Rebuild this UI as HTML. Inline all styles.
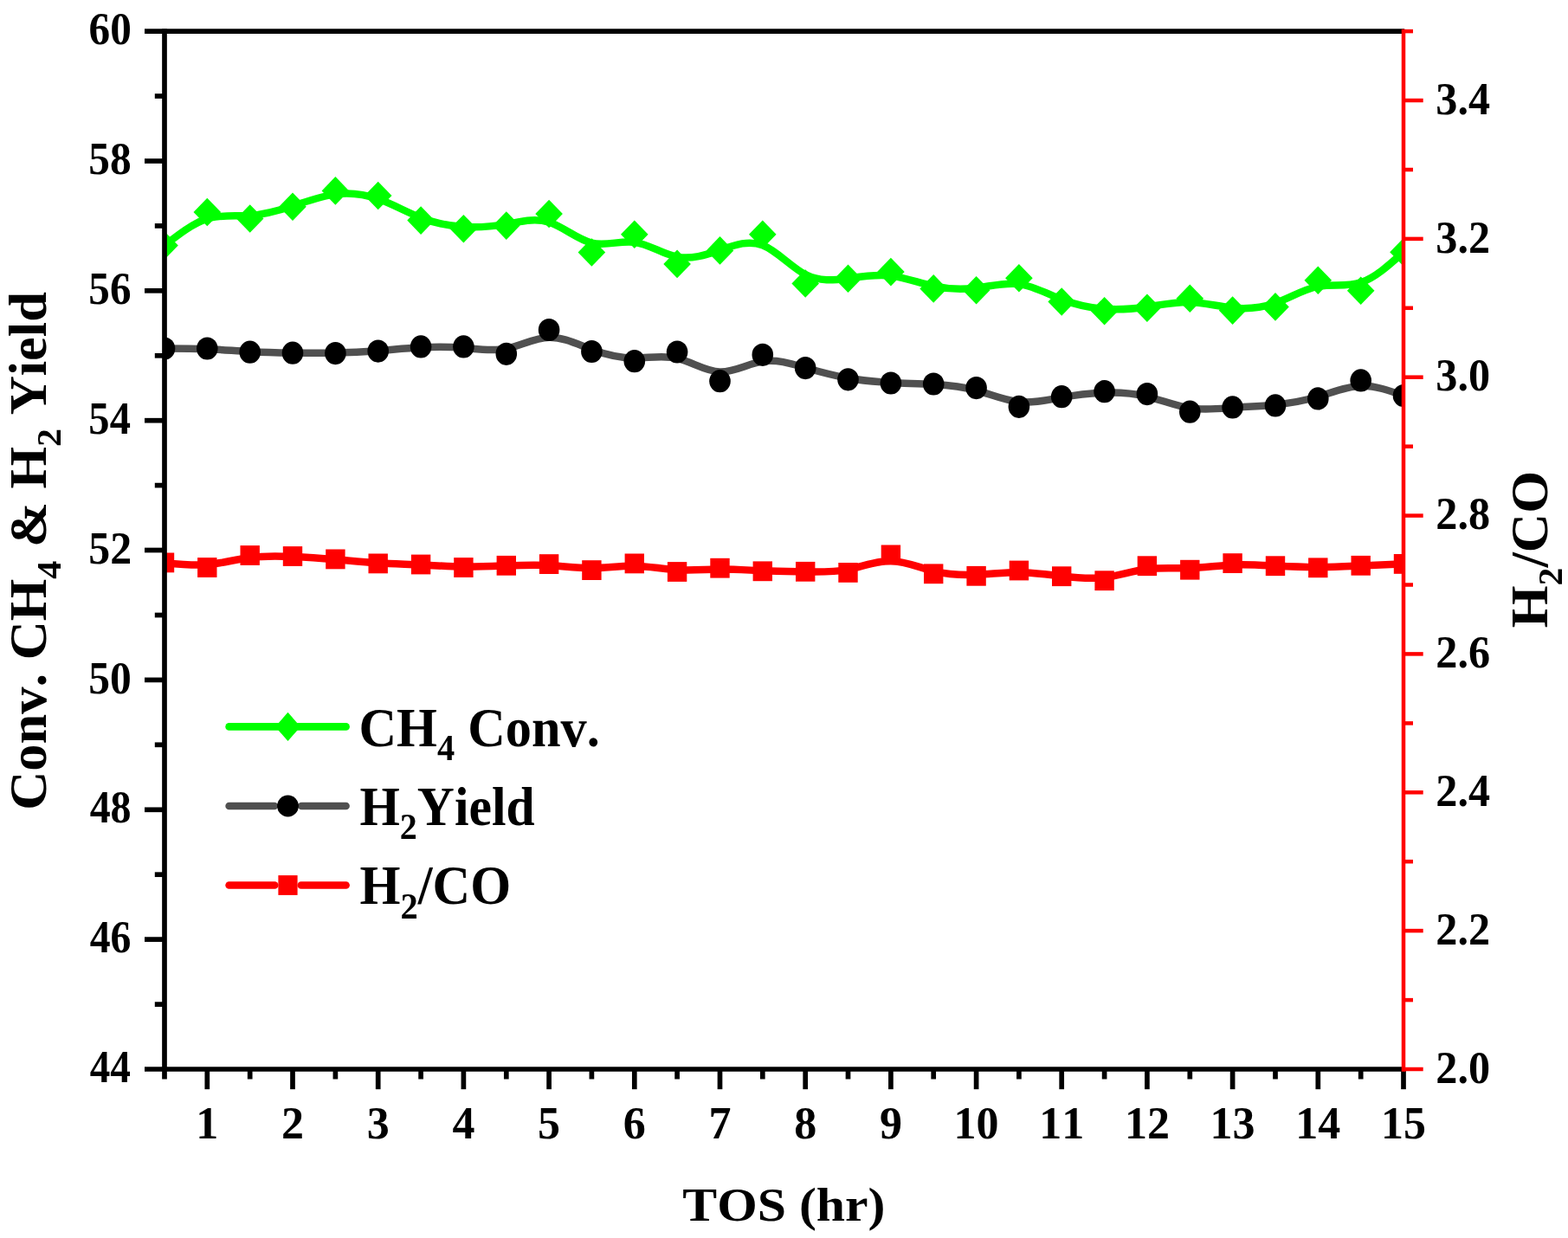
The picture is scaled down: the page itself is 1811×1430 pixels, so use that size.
<!DOCTYPE html>
<html><head><meta charset="utf-8"><title>TOS chart</title>
<style>
html,body{margin:0;padding:0;background:#fff;}
body{width:1811px;height:1430px;overflow:hidden;}
svg{display:block;}
text{font-family:"Liberation Serif","Times New Roman",serif;font-weight:bold;fill:#000;font-kerning:none;font-variant-ligatures:none;}
</style></head><body>
<svg width="1811" height="1430" viewBox="0 0 1811 1430">
<rect width="1811" height="1430" fill="#fff"/>
<defs><clipPath id="pa"><rect x="190.0" y="36.1" width="1431.0" height="1198.9"/></clipPath></defs>

<g clip-path="url(#pa)">
<path d="M190.00,283.50C206.45,270.67 222.90,257.83 239.34,252.67C255.79,247.50 272.24,250.00 288.69,248.97C305.14,247.93 321.59,243.37 338.03,238.02C354.48,232.67 370.93,226.53 387.38,224.40C403.83,222.27 420.28,224.13 436.72,229.83C453.17,235.53 469.62,245.07 486.07,251.43C502.52,257.80 518.97,261.00 535.41,262.00C551.86,263.00 568.31,261.80 584.76,258.93C601.21,256.07 617.66,251.53 634.10,256.68C650.55,261.83 667.00,276.67 683.45,280.62C699.90,284.57 716.34,277.63 732.79,279.87C749.24,282.10 765.69,293.50 782.14,296.62C798.59,299.73 815.03,294.57 831.48,288.87C847.93,283.17 864.38,276.93 880.83,283.28C897.28,289.63 913.72,308.57 930.17,317.08C946.62,325.60 963.07,323.70 979.52,321.47C995.97,319.23 1012.41,316.67 1028.86,318.60C1045.31,320.53 1061.76,326.97 1078.21,330.50C1094.66,334.03 1111.10,334.67 1127.55,332.63C1144.00,330.60 1160.45,325.90 1176.90,328.10C1193.34,330.30 1209.79,339.40 1226.24,345.73C1242.69,352.07 1259.14,355.63 1275.59,356.83C1292.03,358.03 1308.48,356.87 1324.93,354.47C1341.38,352.07 1357.83,348.43 1374.28,348.92C1390.72,349.40 1407.17,354.00 1423.62,355.60C1440.07,357.20 1456.52,355.80 1472.97,350.00C1489.41,344.20 1505.86,334.00 1522.31,330.88C1538.76,327.77 1555.21,331.73 1571.66,326.30C1588.10,320.87 1604.55,306.03 1621.00,291.20" fill="none" stroke="#00ff00" stroke-width="8.5" stroke-linejoin="round" stroke-linecap="round"/>
<path d="M190.0,267.2 L205.8,283.5 L190.0,299.8 L174.2,283.5Z" fill="#00ff00"/>
<path d="M239.3,228.7 L255.1,245.0 L239.3,261.3 L223.5,245.0Z" fill="#00ff00"/>
<path d="M288.7,236.2 L304.5,252.5 L288.7,268.8 L272.9,252.5Z" fill="#00ff00"/>
<path d="M338.0,222.5 L353.8,238.8 L338.0,255.1 L322.2,238.8Z" fill="#00ff00"/>
<path d="M387.4,204.1 L403.2,220.4 L387.4,236.7 L371.6,220.4Z" fill="#00ff00"/>
<path d="M436.7,209.7 L452.5,226.0 L436.7,242.3 L420.9,226.0Z" fill="#00ff00"/>
<path d="M486.1,238.3 L501.9,254.6 L486.1,270.9 L470.3,254.6Z" fill="#00ff00"/>
<path d="M535.4,247.9 L551.2,264.2 L535.4,280.5 L519.6,264.2Z" fill="#00ff00"/>
<path d="M584.8,244.3 L600.6,260.6 L584.8,276.9 L569.0,260.6Z" fill="#00ff00"/>
<path d="M634.1,230.7 L649.9,247.0 L634.1,263.3 L618.3,247.0Z" fill="#00ff00"/>
<path d="M683.4,275.2 L699.2,291.5 L683.4,307.8 L667.6,291.5Z" fill="#00ff00"/>
<path d="M732.8,254.4 L748.6,270.7 L732.8,287.0 L717.0,270.7Z" fill="#00ff00"/>
<path d="M782.1,288.6 L797.9,304.9 L782.1,321.2 L766.3,304.9Z" fill="#00ff00"/>
<path d="M831.5,273.1 L847.3,289.4 L831.5,305.7 L815.7,289.4Z" fill="#00ff00"/>
<path d="M880.8,254.4 L896.6,270.7 L880.8,287.0 L865.0,270.7Z" fill="#00ff00"/>
<path d="M930.2,311.2 L946.0,327.5 L930.2,343.8 L914.4,327.5Z" fill="#00ff00"/>
<path d="M979.5,305.5 L995.3,321.8 L979.5,338.1 L963.7,321.8Z" fill="#00ff00"/>
<path d="M1028.9,297.8 L1044.7,314.1 L1028.9,330.4 L1013.1,314.1Z" fill="#00ff00"/>
<path d="M1078.2,317.1 L1094.0,333.4 L1078.2,349.7 L1062.4,333.4Z" fill="#00ff00"/>
<path d="M1127.6,319.0 L1143.4,335.3 L1127.6,351.6 L1111.8,335.3Z" fill="#00ff00"/>
<path d="M1176.9,304.9 L1192.7,321.2 L1176.9,337.5 L1161.1,321.2Z" fill="#00ff00"/>
<path d="M1226.2,332.2 L1242.0,348.5 L1226.2,364.8 L1210.4,348.5Z" fill="#00ff00"/>
<path d="M1275.6,342.9 L1291.4,359.2 L1275.6,375.5 L1259.8,359.2Z" fill="#00ff00"/>
<path d="M1324.9,339.4 L1340.7,355.7 L1324.9,372.0 L1309.1,355.7Z" fill="#00ff00"/>
<path d="M1374.3,328.5 L1390.1,344.8 L1374.3,361.1 L1358.5,344.8Z" fill="#00ff00"/>
<path d="M1423.6,342.3 L1439.4,358.6 L1423.6,374.9 L1407.8,358.6Z" fill="#00ff00"/>
<path d="M1473.0,338.1 L1488.8,354.4 L1473.0,370.7 L1457.2,354.4Z" fill="#00ff00"/>
<path d="M1522.3,307.5 L1538.1,323.8 L1522.3,340.1 L1506.5,323.8Z" fill="#00ff00"/>
<path d="M1571.7,319.4 L1587.5,335.7 L1571.7,352.0 L1555.9,335.7Z" fill="#00ff00"/>
<path d="M1621.0,274.9 L1636.8,291.2 L1621.0,307.5 L1605.2,291.2Z" fill="#00ff00"/>
<path d="M190.00,402.50C206.45,402.50 222.90,402.50 239.34,403.20C255.79,403.90 272.24,405.30 288.69,406.17C305.14,407.03 321.59,407.37 338.03,407.60C354.48,407.83 370.93,407.97 387.38,407.62C403.83,407.27 420.28,406.43 436.72,405.15C453.17,403.87 469.62,402.13 486.07,401.27C502.52,400.40 518.97,400.40 535.41,401.80C551.86,403.20 568.31,406.00 584.76,402.77C601.21,399.53 617.66,390.27 634.10,389.80C650.55,389.33 667.00,397.67 683.45,403.70C699.90,409.73 716.34,413.47 732.79,413.55C749.24,413.63 765.69,410.07 782.14,413.90C798.59,417.73 815.03,428.97 831.48,429.52C847.93,430.07 864.38,419.93 880.83,417.42C897.28,414.90 913.72,420.00 930.17,424.75C946.62,429.50 963.07,433.90 979.52,436.80C995.97,439.70 1012.41,441.10 1028.86,441.97C1045.31,442.83 1061.76,443.17 1078.21,444.10C1094.66,445.03 1111.10,446.57 1127.55,450.95C1144.00,455.33 1160.45,462.57 1176.90,464.25C1193.34,465.93 1209.79,462.07 1226.24,459.13C1242.69,456.20 1259.14,454.20 1275.59,453.68C1292.03,453.17 1308.48,454.13 1324.93,458.05C1341.38,461.97 1357.83,468.83 1374.28,471.38C1390.72,473.93 1407.17,472.17 1423.62,470.95C1440.07,469.73 1456.52,469.07 1472.97,467.40C1489.41,465.73 1505.86,463.07 1522.31,458.23C1538.76,453.40 1555.21,446.40 1571.66,445.83C1588.10,445.27 1604.55,451.13 1621.00,457.00" fill="none" stroke="#505050" stroke-width="8.5" stroke-linejoin="round" stroke-linecap="round"/>
<ellipse cx="190.0" cy="402.5" rx="12.3" ry="13.1" fill="#000"/>
<ellipse cx="239.3" cy="402.5" rx="12.3" ry="13.1" fill="#000"/>
<ellipse cx="288.7" cy="406.7" rx="12.3" ry="13.1" fill="#000"/>
<ellipse cx="338.0" cy="407.7" rx="12.3" ry="13.1" fill="#000"/>
<ellipse cx="387.4" cy="408.1" rx="12.3" ry="13.1" fill="#000"/>
<ellipse cx="436.7" cy="405.6" rx="12.3" ry="13.1" fill="#000"/>
<ellipse cx="486.1" cy="400.4" rx="12.3" ry="13.1" fill="#000"/>
<ellipse cx="535.4" cy="400.4" rx="12.3" ry="13.1" fill="#000"/>
<ellipse cx="584.8" cy="408.8" rx="12.3" ry="13.1" fill="#000"/>
<ellipse cx="634.1" cy="381.0" rx="12.3" ry="13.1" fill="#000"/>
<ellipse cx="683.4" cy="406.0" rx="12.3" ry="13.1" fill="#000"/>
<ellipse cx="732.8" cy="417.2" rx="12.3" ry="13.1" fill="#000"/>
<ellipse cx="782.1" cy="406.5" rx="12.3" ry="13.1" fill="#000"/>
<ellipse cx="831.5" cy="440.2" rx="12.3" ry="13.1" fill="#000"/>
<ellipse cx="880.8" cy="409.8" rx="12.3" ry="13.1" fill="#000"/>
<ellipse cx="930.2" cy="425.1" rx="12.3" ry="13.1" fill="#000"/>
<ellipse cx="979.5" cy="438.3" rx="12.3" ry="13.1" fill="#000"/>
<ellipse cx="1028.9" cy="442.5" rx="12.3" ry="13.1" fill="#000"/>
<ellipse cx="1078.2" cy="443.5" rx="12.3" ry="13.1" fill="#000"/>
<ellipse cx="1127.6" cy="448.1" rx="12.3" ry="13.1" fill="#000"/>
<ellipse cx="1176.9" cy="469.8" rx="12.3" ry="13.1" fill="#000"/>
<ellipse cx="1226.2" cy="458.2" rx="12.3" ry="13.1" fill="#000"/>
<ellipse cx="1275.6" cy="452.2" rx="12.3" ry="13.1" fill="#000"/>
<ellipse cx="1324.9" cy="455.1" rx="12.3" ry="13.1" fill="#000"/>
<ellipse cx="1374.3" cy="475.7" rx="12.3" ry="13.1" fill="#000"/>
<ellipse cx="1423.6" cy="470.4" rx="12.3" ry="13.1" fill="#000"/>
<ellipse cx="1473.0" cy="468.4" rx="12.3" ry="13.1" fill="#000"/>
<ellipse cx="1522.3" cy="460.4" rx="12.3" ry="13.1" fill="#000"/>
<ellipse cx="1571.7" cy="439.4" rx="12.3" ry="13.1" fill="#000"/>
<ellipse cx="1621.0" cy="457.0" rx="12.3" ry="13.1" fill="#000"/>
<path d="M190.00,649.90C206.45,651.77 222.90,653.63 239.34,652.23C255.79,650.83 272.24,646.17 288.69,644.00C305.14,641.83 321.59,642.17 338.03,642.90C354.48,643.63 370.93,644.77 387.38,646.17C403.83,647.57 420.28,649.23 436.72,650.25C453.17,651.27 469.62,651.63 486.07,652.40C502.52,653.17 518.97,654.33 535.41,654.55C551.86,654.77 568.31,654.03 584.76,653.38C601.21,652.73 617.66,652.17 634.10,653.05C650.55,653.93 667.00,656.27 683.45,656.15C699.90,656.03 716.34,653.47 732.79,653.78C749.24,654.10 765.69,657.30 782.14,658.18C798.59,659.07 815.03,657.63 831.48,657.52C847.93,657.40 864.38,658.60 880.83,659.28C897.28,659.97 913.72,660.13 930.17,660.40C946.62,660.67 963.07,661.03 979.52,657.80C995.97,654.57 1012.41,647.73 1028.86,647.97C1045.31,648.20 1061.76,655.50 1078.21,659.57C1094.66,663.63 1111.10,664.47 1127.55,663.83C1144.00,663.20 1160.45,661.10 1176.90,661.17C1193.34,661.23 1209.79,663.47 1226.24,665.42C1242.69,667.37 1259.14,669.03 1275.59,667.03C1292.03,665.03 1308.48,659.37 1324.93,657.28C1341.38,655.20 1357.83,656.70 1374.28,656.18C1390.72,655.67 1407.17,653.13 1423.62,652.38C1440.07,651.63 1456.52,652.67 1472.97,653.53C1489.41,654.40 1505.86,655.10 1522.31,655.03C1538.76,654.97 1555.21,654.13 1571.66,653.40C1588.10,652.67 1604.55,652.03 1621.00,651.40" fill="none" stroke="#ff0000" stroke-width="8.5" stroke-linejoin="round" stroke-linecap="round"/>
<rect x="178.8" y="638.5" width="22.4" height="22.8" fill="#ff0000"/>
<rect x="228.1" y="644.1" width="22.4" height="22.8" fill="#ff0000"/>
<rect x="277.5" y="630.1" width="22.4" height="22.8" fill="#ff0000"/>
<rect x="326.8" y="631.1" width="22.4" height="22.8" fill="#ff0000"/>
<rect x="376.2" y="634.5" width="22.4" height="22.8" fill="#ff0000"/>
<rect x="425.5" y="639.5" width="22.4" height="22.8" fill="#ff0000"/>
<rect x="474.9" y="640.6" width="22.4" height="22.8" fill="#ff0000"/>
<rect x="524.2" y="644.1" width="22.4" height="22.8" fill="#ff0000"/>
<rect x="573.6" y="641.9" width="22.4" height="22.8" fill="#ff0000"/>
<rect x="622.9" y="640.2" width="22.4" height="22.8" fill="#ff0000"/>
<rect x="672.2" y="647.2" width="22.4" height="22.8" fill="#ff0000"/>
<rect x="721.6" y="639.5" width="22.4" height="22.8" fill="#ff0000"/>
<rect x="770.9" y="649.1" width="22.4" height="22.8" fill="#ff0000"/>
<rect x="820.3" y="644.8" width="22.4" height="22.8" fill="#ff0000"/>
<rect x="869.6" y="648.4" width="22.4" height="22.8" fill="#ff0000"/>
<rect x="919.0" y="648.9" width="22.4" height="22.8" fill="#ff0000"/>
<rect x="968.3" y="650.0" width="22.4" height="22.8" fill="#ff0000"/>
<rect x="1017.7" y="629.5" width="22.4" height="22.8" fill="#ff0000"/>
<rect x="1067.0" y="651.4" width="22.4" height="22.8" fill="#ff0000"/>
<rect x="1116.4" y="653.9" width="22.4" height="22.8" fill="#ff0000"/>
<rect x="1165.7" y="647.6" width="22.4" height="22.8" fill="#ff0000"/>
<rect x="1215.0" y="654.3" width="22.4" height="22.8" fill="#ff0000"/>
<rect x="1264.4" y="659.3" width="22.4" height="22.8" fill="#ff0000"/>
<rect x="1313.7" y="642.3" width="22.4" height="22.8" fill="#ff0000"/>
<rect x="1363.1" y="646.8" width="22.4" height="22.8" fill="#ff0000"/>
<rect x="1412.4" y="639.2" width="22.4" height="22.8" fill="#ff0000"/>
<rect x="1461.8" y="642.3" width="22.4" height="22.8" fill="#ff0000"/>
<rect x="1511.1" y="644.4" width="22.4" height="22.8" fill="#ff0000"/>
<rect x="1560.5" y="641.9" width="22.4" height="22.8" fill="#ff0000"/>
<rect x="1609.8" y="640.0" width="22.4" height="22.8" fill="#ff0000"/>
</g>
<g stroke="#000" stroke-width="5.7" fill="none">
<line x1="167" y1="36.1" x2="1622.0" y2="36.1"/>
<line x1="167" y1="1235.0" x2="1621.0" y2="1235.0"/>
<line x1="190.0" y1="33.25" x2="190.0" y2="1246.5"/>
<line x1="178.8" y1="1160.1" x2="190.0" y2="1160.1"/>
<line x1="167" y1="1085.1" x2="190.0" y2="1085.1"/>
<line x1="178.8" y1="1010.2" x2="190.0" y2="1010.2"/>
<line x1="167" y1="935.3" x2="190.0" y2="935.3"/>
<line x1="178.8" y1="860.3" x2="190.0" y2="860.3"/>
<line x1="167" y1="785.4" x2="190.0" y2="785.4"/>
<line x1="178.8" y1="710.5" x2="190.0" y2="710.5"/>
<line x1="167" y1="635.5" x2="190.0" y2="635.5"/>
<line x1="178.8" y1="560.6" x2="190.0" y2="560.6"/>
<line x1="167" y1="485.7" x2="190.0" y2="485.7"/>
<line x1="178.8" y1="410.8" x2="190.0" y2="410.8"/>
<line x1="167" y1="335.8" x2="190.0" y2="335.8"/>
<line x1="178.8" y1="260.9" x2="190.0" y2="260.9"/>
<line x1="167" y1="186.0" x2="190.0" y2="186.0"/>
<line x1="178.8" y1="111.0" x2="190.0" y2="111.0"/>
<line x1="239.3" y1="1235.0" x2="239.3" y2="1258.2"/>
<line x1="288.7" y1="1235.0" x2="288.7" y2="1246.5"/>
<line x1="338.0" y1="1235.0" x2="338.0" y2="1258.2"/>
<line x1="387.4" y1="1235.0" x2="387.4" y2="1246.5"/>
<line x1="436.7" y1="1235.0" x2="436.7" y2="1258.2"/>
<line x1="486.1" y1="1235.0" x2="486.1" y2="1246.5"/>
<line x1="535.4" y1="1235.0" x2="535.4" y2="1258.2"/>
<line x1="584.8" y1="1235.0" x2="584.8" y2="1246.5"/>
<line x1="634.1" y1="1235.0" x2="634.1" y2="1258.2"/>
<line x1="683.4" y1="1235.0" x2="683.4" y2="1246.5"/>
<line x1="732.8" y1="1235.0" x2="732.8" y2="1258.2"/>
<line x1="782.1" y1="1235.0" x2="782.1" y2="1246.5"/>
<line x1="831.5" y1="1235.0" x2="831.5" y2="1258.2"/>
<line x1="880.8" y1="1235.0" x2="880.8" y2="1246.5"/>
<line x1="930.2" y1="1235.0" x2="930.2" y2="1258.2"/>
<line x1="979.5" y1="1235.0" x2="979.5" y2="1246.5"/>
<line x1="1028.9" y1="1235.0" x2="1028.9" y2="1258.2"/>
<line x1="1078.2" y1="1235.0" x2="1078.2" y2="1246.5"/>
<line x1="1127.6" y1="1235.0" x2="1127.6" y2="1258.2"/>
<line x1="1176.9" y1="1235.0" x2="1176.9" y2="1246.5"/>
<line x1="1226.2" y1="1235.0" x2="1226.2" y2="1258.2"/>
<line x1="1275.6" y1="1235.0" x2="1275.6" y2="1246.5"/>
<line x1="1324.9" y1="1235.0" x2="1324.9" y2="1258.2"/>
<line x1="1374.3" y1="1235.0" x2="1374.3" y2="1246.5"/>
<line x1="1423.6" y1="1235.0" x2="1423.6" y2="1258.2"/>
<line x1="1473.0" y1="1235.0" x2="1473.0" y2="1246.5"/>
<line x1="1522.3" y1="1235.0" x2="1522.3" y2="1258.2"/>
<line x1="1571.7" y1="1235.0" x2="1571.7" y2="1246.5"/>
<line x1="1621.0" y1="1235.0" x2="1621.0" y2="1258.2"/>
</g>
<g stroke="#ff0000" stroke-width="4.5" fill="none">
<line x1="1621.0" y1="33.85" x2="1621.0" y2="1237.85"/>
<line x1="1621.0" y1="1235.0" x2="1643.7" y2="1235.0"/>
<line x1="1621.0" y1="1155.1" x2="1632" y2="1155.1"/>
<line x1="1621.0" y1="1075.1" x2="1643.7" y2="1075.1"/>
<line x1="1621.0" y1="995.2" x2="1632" y2="995.2"/>
<line x1="1621.0" y1="915.3" x2="1643.7" y2="915.3"/>
<line x1="1621.0" y1="835.4" x2="1632" y2="835.4"/>
<line x1="1621.0" y1="755.4" x2="1643.7" y2="755.4"/>
<line x1="1621.0" y1="675.5" x2="1632" y2="675.5"/>
<line x1="1621.0" y1="595.6" x2="1643.7" y2="595.6"/>
<line x1="1621.0" y1="515.7" x2="1632" y2="515.7"/>
<line x1="1621.0" y1="435.7" x2="1643.7" y2="435.7"/>
<line x1="1621.0" y1="355.8" x2="1632" y2="355.8"/>
<line x1="1621.0" y1="275.9" x2="1643.7" y2="275.9"/>
<line x1="1621.0" y1="196.0" x2="1632" y2="196.0"/>
<line x1="1621.0" y1="116.0" x2="1643.7" y2="116.0"/>
<line x1="1621.0" y1="36.1" x2="1632" y2="36.1"/>
</g>
<g>
<text transform="translate(103.65,1250.20) scale(0.9116,1)" font-size="51.8">44</text>
<text transform="translate(103.65,1100.34) scale(0.9219,1)" font-size="51.8">46</text>
<text transform="translate(103.64,950.48) scale(0.9256,1)" font-size="51.8">48</text>
<text transform="translate(102.32,800.61) scale(0.9570,1)" font-size="51.8">50</text>
<text transform="translate(102.30,650.75) scale(0.9621,1)" font-size="51.8">52</text>
<text transform="translate(102.36,500.89) scale(0.9372,1)" font-size="51.8">54</text>
<text transform="translate(102.33,351.02) scale(0.9480,1)" font-size="51.8">56</text>
<text transform="translate(102.33,201.16) scale(0.9520,1)" font-size="51.8">58</text>
<text transform="translate(102.62,51.30) scale(0.9510,1)" font-size="51.8">60</text>
</g>
<g font-size="52">
<text x="239.3" y="1314.5" text-anchor="middle">1</text>
<text x="338.0" y="1314.5" text-anchor="middle">2</text>
<text x="436.7" y="1314.5" text-anchor="middle">3</text>
<text x="535.4" y="1314.5" text-anchor="middle">4</text>
<text x="634.1" y="1314.5" text-anchor="middle">5</text>
<text x="732.8" y="1314.5" text-anchor="middle">6</text>
<text x="831.5" y="1314.5" text-anchor="middle">7</text>
<text x="930.2" y="1314.5" text-anchor="middle">8</text>
<text x="1028.9" y="1314.5" text-anchor="middle">9</text>
<text x="1127.6" y="1314.5" text-anchor="middle">10</text>
<text x="1226.2" y="1314.5" text-anchor="middle">11</text>
<text x="1324.9" y="1314.5" text-anchor="middle">12</text>
<text x="1423.6" y="1314.5" text-anchor="middle">13</text>
<text x="1522.3" y="1314.5" text-anchor="middle">14</text>
<text x="1621.0" y="1314.5" text-anchor="middle">15</text>
<text transform="translate(1658.3,1250.6) scale(0.965,1)">2.0</text>
<text transform="translate(1658.3,1090.7) scale(0.965,1)">2.2</text>
<text transform="translate(1658.3,930.9) scale(0.965,1)">2.4</text>
<text transform="translate(1658.3,771.0) scale(0.965,1)">2.6</text>
<text transform="translate(1658.3,611.2) scale(0.965,1)">2.8</text>
<text transform="translate(1658.3,451.3) scale(0.965,1)">3.0</text>
<text transform="translate(1658.3,291.5) scale(0.965,1)">3.2</text>
<text transform="translate(1658.3,131.6) scale(0.965,1)">3.4</text>
</g>
<text transform="translate(788.37,1410.40) scale(1.1050,1)" font-size="54.1">TOS (hr)</text>
<text transform="translate(53.30,935.75) rotate(-90) scale(1.0219,1)" font-size="61.1">Conv. CH<tspan font-size="41" dy="16.30">4</tspan><tspan dy="-16.30"> &amp; H</tspan><tspan font-size="41" dy="16.30">2</tspan><tspan dy="-16.30"> Yield</tspan></text>
<text transform="translate(1787.40,725.27) rotate(-90) scale(1.0186,1)" font-size="61.6">H<tspan font-size="41" dy="16.30">2</tspan><tspan dy="-16.30">/CO</tspan></text>
<line x1="264.6" y1="839.4" x2="399.6" y2="839.4" stroke="#00ff00" stroke-width="8.6" stroke-linecap="round"/>
<path d="M332.5,822.6999999999999 L347.0,839.4 L332.5,856.1 L318.0,839.4Z" fill="#00ff00"/>
<line x1="264.6" y1="931.0" x2="317" y2="931.0" stroke="#505050" stroke-width="8.6" stroke-linecap="round"/>
<line x1="348.2" y1="931.0" x2="399.6" y2="931.0" stroke="#505050" stroke-width="8.6" stroke-linecap="round"/>
<circle cx="332.5" cy="931.0" r="12.4" fill="#000"/>
<line x1="264.6" y1="1022.5" x2="317.3" y2="1022.5" stroke="#ff0000" stroke-width="8.6" stroke-linecap="round"/>
<line x1="347.8" y1="1022.5" x2="399.6" y2="1022.5" stroke="#ff0000" stroke-width="8.6" stroke-linecap="round"/>
<rect x="321.4" y="1011.1" width="22.2" height="22.8" fill="#ff0000"/>
<text transform="translate(414.45,861.60) scale(0.9518,1)" font-size="63.4">CH<tspan font-size="42.5" dy="16.40">4</tspan><tspan dy="-16.40"> Conv.</tspan></text>
<text transform="translate(415.48,953.00) scale(0.9405,1)" font-size="63.4">H<tspan font-size="42.5" dy="16.40">2</tspan><tspan dy="-16.40">Yield</tspan></text>
<text transform="translate(415.57,1044.20) scale(0.9525,1)" font-size="63.4">H<tspan font-size="42.5" dy="16.40">2</tspan><tspan dy="-16.40">/CO</tspan></text>
</svg></body></html>
